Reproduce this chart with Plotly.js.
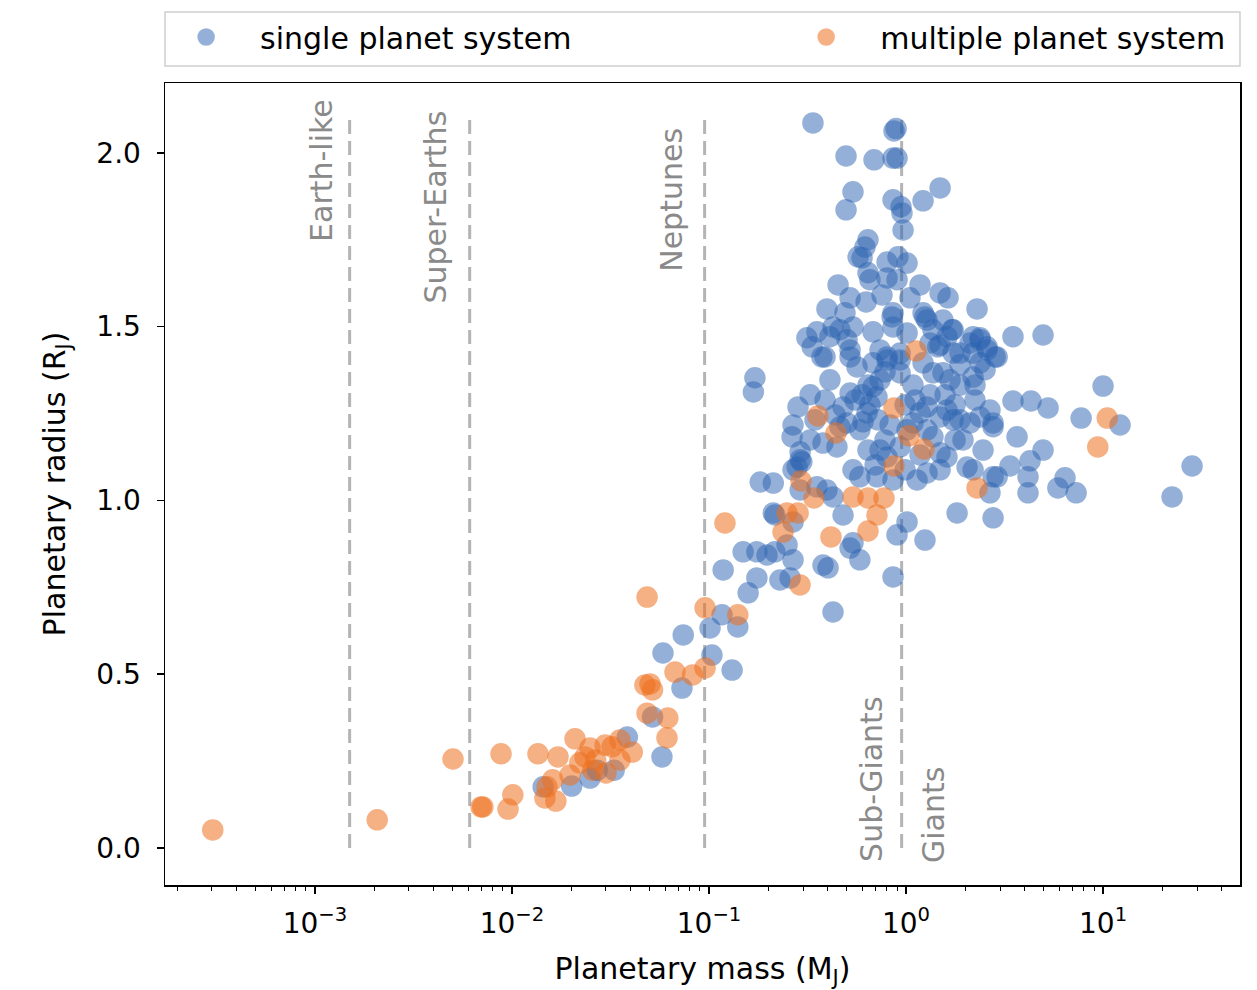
<!DOCTYPE html>
<html>
<head>
<meta charset="utf-8">
<script src="https://cdn.plot.ly/plotly-3.0.1.min.js"></script>
<style>html,body{margin:0;padding:0;background:#fff;}#chart{width:1257px;height:990px;}</style>
</head>
<body>
<div id="chart"></div>
<script>
// ---- data ----
const singleMass = [
0.0144,0.0201,0.0249,0.0271,0.0330,0.0385,0.0517,0.0577,0.0729,0.0584,0.0740,0.1012,0.1035,0.131,0.1164,0.140,
0.149,0.158,0.175,0.175,0.197,0.216,0.249,0.267,0.229,0.258,0.379,0.402,0.426,0.118,0.520,0.583,0.479,0.859,0.900,
1.012,1.248,0.216,0.212,0.182,0.212,0.280,0.290,0.290,0.353,0.397,0.426,0.446,0.538,0.583,0.712,0.859,1.137,1.278,
1.489,1.614,0.738,0.801,0.933,1.012,1.085,1.178,1.278,1.489,1.614,1.734,1.278,1.370,2.113,2.377,2.766,1.946,2.460,
2.040,2.190,2.766,1.816,2.766,0.538,0.634,0.605,0.583,0.520,0.479,0.462,0.502,0.379,0.290,0.296,0.267,0.283,0.267,
0.264,0.171,0.168,0.314,0.334,0.374,0.520,0.564,0.680,0.801,0.933,1.085,0.680,0.712,1.540,1.672,1.879,2.190,2.377,
2.580,2.113,2.377,1.370,1.489,1.734,1.614,0.933,1.220,0.353,0.411,0.462,3.490,4.960,2.831,10.00,3.490,4.310,5.260,
7.740,12.20,28.30,22.40,4.960,3.370,4.260,4.160,4.160,2.900,6.410,5.900,7.300,2.766,3.660,2.668,
0.337,0.869,0.890,0.496,0.688,0.859,0.900,0.538,0.496,0.859,0.943,0.954,1.220,1.489,0.966,0.641,0.619,0.571,0.598,
0.801,0.910,1.012,0.641,0.656,0.801,0.900,0.452,0.520,0.627,0.755,1.178,1.489,1.634,1.047,2.293,0.397,0.490,0.426,
0.538,0.680,0.850,0.859,1.012,1.248,1.540,1.734,2.190,2.377,2.580,2.900,1.879,2.190,1.324,1.450,0.502,0.520,0.388,
0.738,0.801,0.933,1.220,1.278,0.859,1.370,1.712,
0.551,0.598,0.641,0.738,0.782,0.656,0.720,0.830,0.782,0.641,0.697,0.989,1.112,1.324,1.578,1.774,1.879,2.239,2.668,
1.879,2.518,2.239,1.774,1.489,1.178,0.989,0.326,0.345,0.388,0.437,0.411,0.326,0.267
];
const singleRadius = [
0.176,0.178,0.201,0.224,0.224,0.319,0.377,0.262,0.460,0.561,0.613,0.633,0.555,0.512,0.671,0.636,
0.852,0.734,0.777,0.852,0.843,0.852,0.872,0.829,0.771,0.777,0.814,0.806,0.679,0.800,0.863,0.829,0.958,0.780,0.901,
0.938,0.886,0.958,0.964,1.053,1.050,1.096,1.117,1.030,1.039,1.030,1.010,1.154,1.088,1.068,1.068,1.059,1.059,1.079,
1.137,1.125,1.145,1.125,1.154,1.203,1.223,1.252,1.269,1.240,1.260,1.232,1.203,1.183,1.223,1.240,1.212,1.174,1.145,
1.096,1.088,1.068,0.964,0.950,0.878,1.252,1.226,1.203,1.309,1.269,1.212,1.223,1.165,1.140,1.111,1.088,1.269,1.217,
1.183,1.353,1.312,1.468,1.442,1.413,1.413,1.384,1.396,1.404,1.367,1.332,1.327,1.298,1.367,1.347,1.332,1.355,1.396,
1.433,1.453,1.468,1.367,1.447,1.424,1.471,1.424,1.396,1.485,1.471,1.491,1.471,1.476,1.413,1.329,1.286,1.286,1.266,
1.237,1.217,1.099,1.010,1.145,1.099,1.114,1.068,1.022,1.068,1.065,1.036,1.022,1.223,1.183,1.022,
2.086,2.063,2.070,1.991,1.980,1.985,1.985,1.888,1.836,1.865,1.845,1.827,1.862,1.899,1.778,1.750,1.729,1.701,1.698,
1.686,1.701,1.683,1.655,1.635,1.640,1.635,1.620,1.583,1.571,1.591,1.620,1.597,1.583,1.583,1.551,1.551,1.540,1.499,
1.499,1.485,1.528,1.499,1.482,1.528,1.519,1.491,1.471,1.462,1.442,1.413,1.424,1.424,1.453,1.442,1.462,1.433,1.413,
1.433,1.413,1.404,1.540,1.519,1.540,1.491,1.491,
1.289,1.304,1.332,1.347,1.370,1.275,1.232,1.217,1.174,1.145,1.102,1.275,1.289,1.304,1.304,1.275,1.232,1.289,1.260,
1.390,1.376,1.332,1.174,1.088,1.131,1.088,1.174,1.232,1.289,1.246,1.347,1.304,0.938
];
const multiMass = [
0.000303,0.00207,0.00502,0.00697,0.00712,0.0088,0.00955,0.0101,0.01355,0.01506,0.0147,0.0167,0.01713,0.0161,
0.0209,0.0197,0.0221,0.0249,0.0266,0.0300,0.0322,0.0353,0.0408,0.0353,0.0235,0.0257,0.0297,0.0485,0.0618,0.0612,
0.0473,0.0517,0.0502,0.0485,0.0672,0.0825,0.0955,0.0955,0.140,0.1205,0.2897,0.2376,0.2487,0.2833,0.293,0.341,
0.357,0.441,0.416,0.538,0.641,0.773,0.712,0.641,0.869,1.035,1.234,0.869,1.124,2.293,10.5,9.4
];
const multiRadius = [
0.052,0.081,0.256,0.118,0.118,0.271,0.112,0.153,0.271,0.176,0.144,0.135,0.262,0.196,
0.314,0.210,0.245,0.288,0.253,0.216,0.291,0.311,0.276,0.253,0.262,0.224,0.296,0.388,0.374,0.317,
0.469,0.455,0.472,0.722,0.506,0.498,0.518,0.691,0.671,0.935,0.757,0.909,0.964,0.964,1.056,1.007,
1.243,1.194,0.895,1.010,1.007,1.007,0.958,0.912,1.266,1.186,1.148,1.099,1.430,1.036,1.237,1.154
];
// category boundaries (planetary mass, M_J) and labels
const boundaryMass = [0.0015, 0.0061, 0.095, 0.95];
const boundaryRadius = [0, 2.1];
const labelText = ['Earth-like', 'Super-Earths', 'Neptunes', 'Sub-Giants', 'Giants'];
const labelMass = [0.001086, 0.00411, 0.0649, 0.672, 1.387];
const labelRadius = [1.948, 1.845, 1.865, 0.196, 0.095];
// axis ticks
const xTickVals = [0.001, 0.01, 0.1, 1, 10];
const xTickText = ['10<sup>\u22123</sup>', '10<sup>\u22122</sup>', '10<sup>\u22121</sup>', '10<sup>0</sup>', '10<sup>1</sup>'];
const yTickVals = [0, 0.5, 1.0, 1.5, 2.0];

const minorVals = [];
[-4, -3, -2, -1, 0, 1].forEach(function (p) {
  for (let d = 2; d <= 9; d++) minorVals.push(d * Math.pow(10, p));
});

const blue = 'rgb(45,100,178)';
const orange = 'rgb(238,112,30)';

const traces = [];
boundaryMass.forEach(function (m) {
  traces.push({
    x: [m, m], y: boundaryRadius, mode: 'lines', showlegend: false, hoverinfo: 'skip',
    line: {color: '#b4b4b4', width: 3, dash: '14px,7px'}
  });
});
traces.push({
  x: singleMass, y: singleRadius, mode: 'markers', type: 'scatter', name: 'single planet system',
  legend: 'legend',
  marker: {color: blue, size: 20, opacity: 0.5, line: {color: blue, width: 1.5}}
});
traces.push({
  x: multiMass, y: multiRadius, mode: 'markers', type: 'scatter', name: 'multiple planet system',
  legend: 'legend2',
  marker: {color: orange, size: 20, opacity: 0.55, line: {color: orange, width: 1.5}}
});

const annotations = labelText.map(function (t, i) {
  return {
    text: t, x: Math.log10(labelMass[i]), y: labelRadius[i], xref: 'x', yref: 'y',
    showarrow: false, textangle: -90, xanchor: 'center', yanchor: 'middle',
    font: {family: 'DejaVu Sans', size: 30, color: '#8a8a8a'}
  };
});

const axisCommon = {
  showline: true, mirror: true, linecolor: 'black', linewidth: 1.5,
  ticks: 'outside', ticklen: 7, tickwidth: 1.5, tickcolor: 'black',
  showgrid: false, zeroline: false
};

const legendCommon = {
  orientation: 'h', xanchor: 'left', y: 1.0574, yanchor: 'middle',
  itemwidth: 98, bgcolor: 'rgba(0,0,0,0)', borderwidth: 0,
  font: {family: 'DejaVu Sans', size: 30, color: 'black'}
};

const layout = {
  width: 1257, height: 990,
  margin: {l: 165, r: 17, t: 83, b: 105, autoexpand: false},
  paper_bgcolor: 'white', plot_bgcolor: 'white',
  font: {family: 'DejaVu Sans', size: 28, color: 'black'},
  showlegend: true,
  legend: Object.assign({}, legendCommon, {x: -0.012}),
  legend2: Object.assign({}, legendCommon, {x: 0.5648}),
  shapes: [{
    type: 'rect', xref: 'paper', yref: 'paper', x0: 0, x1: 1, y0: 1.0212, y1: 1.0885,
    line: {color: '#d0d0d0', width: 1.5}, fillcolor: 'rgba(255,255,255,0)'
  }],
  xaxis: Object.assign({}, axisCommon, {
    type: 'log', range: [-3.761, 1.695],
    tickmode: 'array', tickvals: xTickVals, ticktext: xTickText, ticklabelstandoff: 6,
    minor: {ticks: 'outside', ticklen: 4, tickwidth: 1, tickcolor: 'black', tickmode: 'array', tickvals: minorVals, showgrid: false},
    title: {text: 'Planetary mass (M<sub>J</sub>)', font: {size: 30}, standoff: 27}
  }),
  yaxis: Object.assign({}, axisCommon, {
    range: [-0.1065, 2.201], tickmode: 'array', tickvals: yTickVals, tickformat: '.1f', ticklabelstandoff: 10,
    title: {text: 'Planetary radius (R<sub>J</sub>)', font: {size: 30}, standoff: 22}
  }),
  annotations: annotations
};

Plotly.newPlot('chart', traces, layout, {displayModeBar: false, staticPlot: true});
</script>
</body>
</html>
